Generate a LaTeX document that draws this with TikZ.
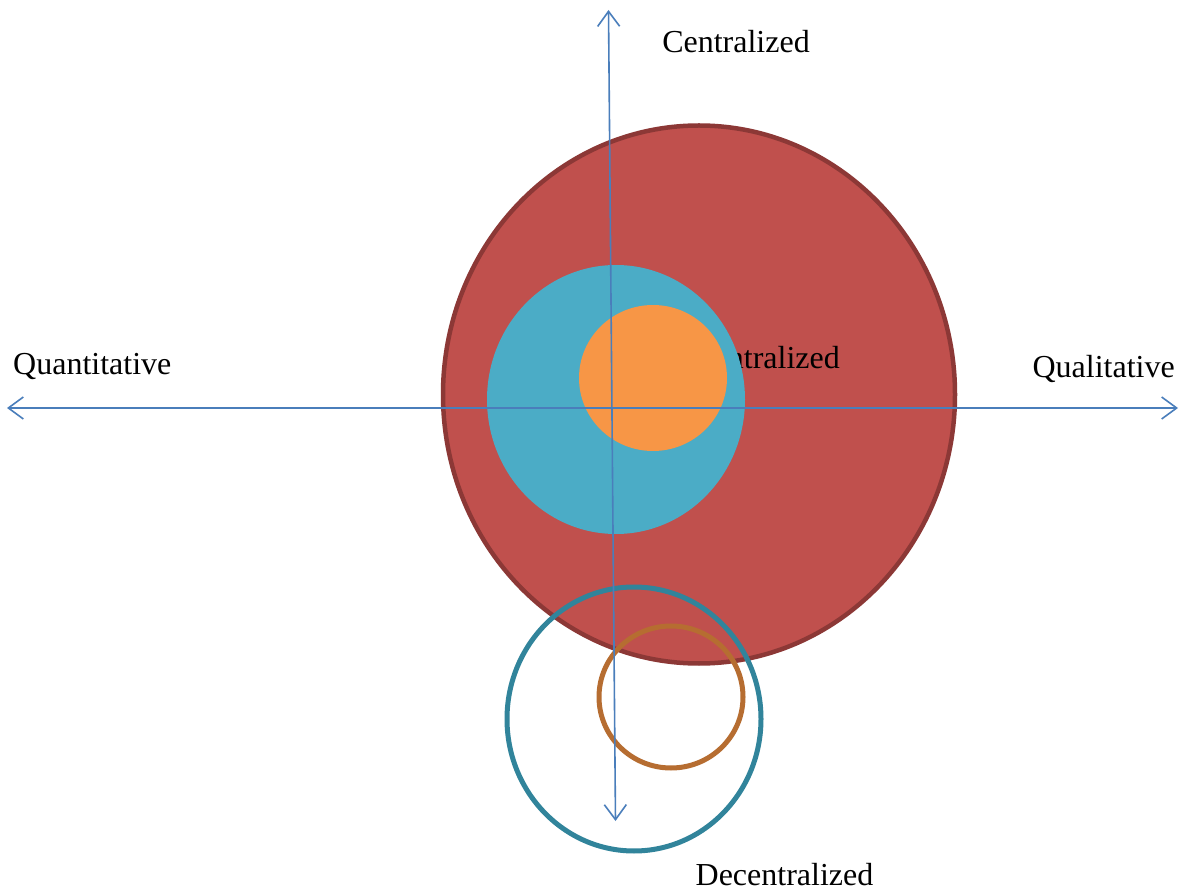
\documentclass[tikz,border=0pt]{standalone}
\usepackage{fontspec}
\setmainfont{Liberation Serif}
\usetikzlibrary{arrows.meta}
\definecolor{redfill}{HTML}{C0504D}
\definecolor{redline}{HTML}{8C3836}
\definecolor{bluefill}{HTML}{4BACC6}
\definecolor{orangefill}{HTML}{F79646}
\definecolor{axiscol}{HTML}{4A7EBB}
\definecolor{tealline}{HTML}{31849B}
\definecolor{brownline}{HTML}{B66D31}
\tikzset{
  lbl/.style={font=\fontsize{32}{36}\selectfont, text=black, inner sep=0pt},
  axisline/.style={draw=axiscol, line width=1.6pt, {Straight Barb[length=15pt,width=22pt,line width=1.6pt]}-{Straight Barb[length=15pt,width=22pt,line width=1.6pt]}},
  ring/.style={line width=5pt, fill=none}
}
\begin{document}
\begin{tikzpicture}[x=1pt,y=-1pt]
\useasboundingbox[fill=white] (0,0) rectangle (1179,890);
% big red circle
\draw[fill=redfill, draw=redline, line width=4.5pt] (699,394.5) ellipse [x radius=256, y radius=269];
\node[lbl, anchor=base east] (inner) at (840,369) {Centralized};
\fill[bluefill] (616,399.5) ellipse [x radius=129, y radius=134.5];
\fill[orangefill] (653,378) ellipse [x radius=74, y radius=73];
% decentralized rings
\draw[ring, draw=tealline] (634,719) ellipse [x radius=127, y radius=132];
\draw[ring, draw=brownline] (671,697) ellipse [x radius=72, y radius=71];
% axes
\coordinate (top) at (608.5,10);
\coordinate (bottom) at (615.5,821);
\coordinate (left) at (7,408);
\coordinate (right) at (1178,408);
\draw[axisline] (bottom) -- (top);
\draw[axisline] (left) -- (right);
% labels
\node[lbl, anchor=base] (cen) at (736,53) {Centralized};
\node[lbl, anchor=base west] (quan) at (13,375) {Quantitative};
\node[lbl, anchor=base east] (qual) at (1175,378) {Qualitative};
\node[lbl, anchor=base] (dec) at (784.5,885) {Decentralized};
\end{tikzpicture}
\end{document}
